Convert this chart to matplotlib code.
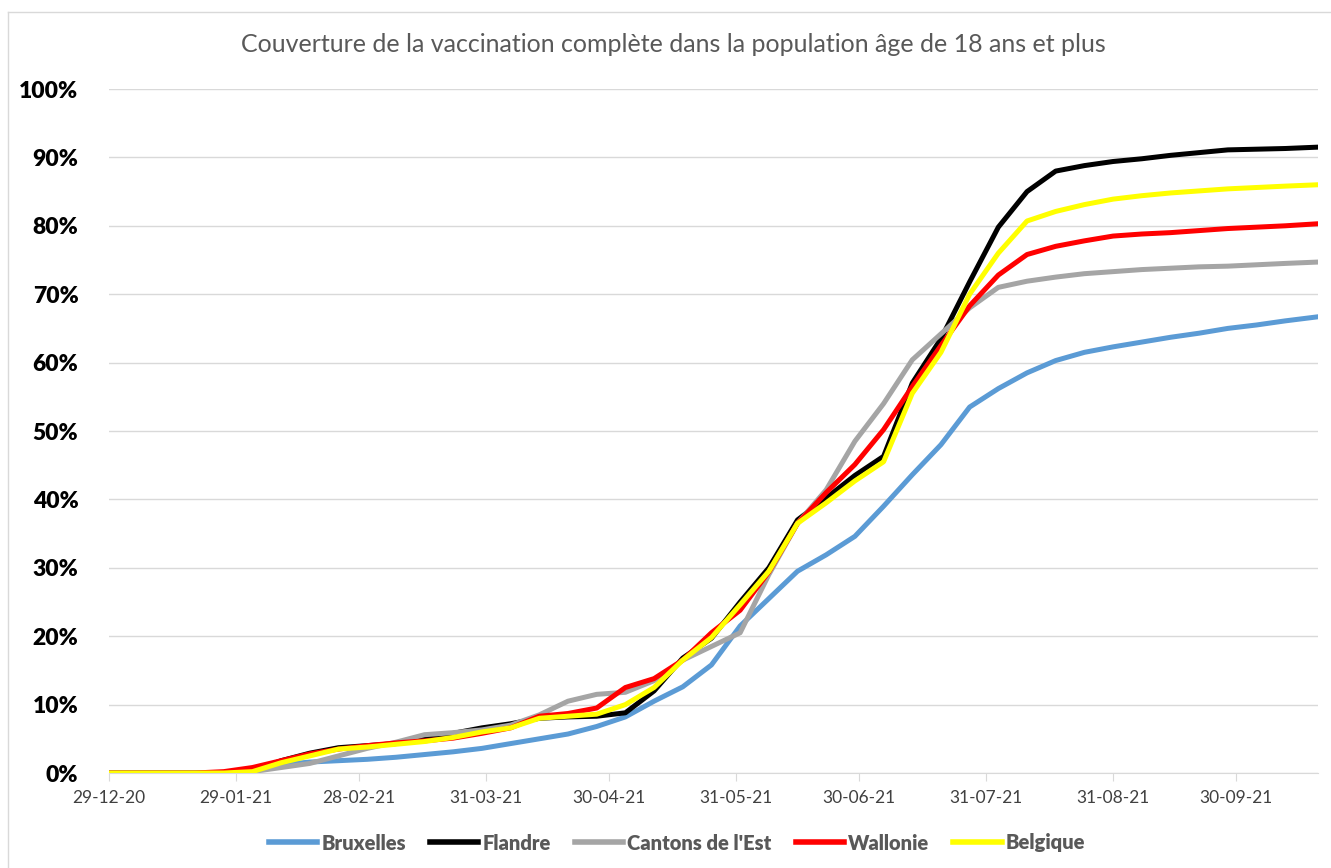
import numpy as np
import pandas as pd
import matplotlib
matplotlib.use("Agg")
import matplotlib.pyplot as plt
import matplotlib.dates as mdates
from matplotlib.lines import Line2D
from matplotlib.ticker import FuncFormatter

# Data (days since 29-12-2020, coverage in %)
start = pd.Timestamp("2020-12-29")
days = [0, 7, 14, 21, 28, 35, 42, 49, 56, 63, 70, 77, 84, 91, 98, 105, 112, 119, 126, 133,
        140, 147, 154, 161, 168, 175, 182, 189, 196, 203, 210, 217, 224, 231, 238, 245, 252,
        259, 266, 273, 280, 287, 295]

bruxelles = [0, 0, 0, 0, 0, 0.5, 1.2, 1.6, 1.8, 2.0, 2.3, 2.7, 3.1, 3.6, 4.3, 5.0, 5.7, 6.8,
             8.2, 10.5, 12.6, 15.8, 21.5, 25.5, 29.5, 31.9, 34.6, 39.0, 43.6, 48.0, 53.5,
             56.2, 58.5, 60.3, 61.5, 62.3, 63.0, 63.7, 64.3, 65.0, 65.5, 66.1, 66.7]
flandre = [0, 0, 0, 0, 0, 0.2, 1.8, 2.9, 3.7, 4.0, 4.3, 5.0, 5.8, 6.6, 7.2, 8.0, 8.2, 8.3,
           8.8, 12.0, 16.8, 19.7, 25.0, 30.0, 37.0, 40.2, 43.5, 46.3, 57.0, 63.5, 71.8, 79.8,
           85.0, 88.0, 88.8, 89.4, 89.8, 90.3, 90.7, 91.1, 91.2, 91.3, 91.5]
cantons = [0, 0, 0, 0, 0, 0.2, 0.8, 1.4, 2.5, 3.6, 4.5, 5.6, 5.9, 6.3, 7.0, 8.5, 10.5, 11.5,
           11.8, 13.5, 16.5, 18.5, 20.5, 29.0, 36.5, 41.4, 48.5, 54.0, 60.4, 64.2, 68.0, 71.0,
           71.9, 72.5, 73.0, 73.3, 73.6, 73.8, 74.0, 74.1, 74.3, 74.5, 74.7]
wallonie = [0, 0, 0, 0, 0.2, 0.8, 1.8, 2.8, 3.5, 4.0, 4.4, 4.7, 5.1, 5.8, 6.6, 8.3, 8.7, 9.5,
            12.5, 13.8, 16.5, 20.5, 23.8, 29.4, 36.5, 41.0, 45.1, 50.2, 56.5, 62.5, 68.3,
            72.8, 75.8, 77.0, 77.8, 78.5, 78.8, 79.0, 79.3, 79.6, 79.8, 80.0, 80.3]
belgique = [0, 0, 0, 0, 0, 0.2, 1.5, 2.5, 3.5, 3.8, 4.2, 4.6, 5.2, 6.0, 6.6, 8.0, 8.3, 8.6,
            10.0, 12.5, 16.5, 19.8, 24.6, 29.5, 36.5, 39.5, 42.7, 45.5, 55.5, 61.5, 70.0,
            76.0, 80.7, 82.1, 83.1, 83.9, 84.4, 84.8, 85.1, 85.4, 85.6, 85.8, 86.0]

series_names = ["Bruxelles", "Flandre", "Cantons de l'Est", "Wallonie", "Belgique"]
series_colors = ["#5B9BD5", "#000000", "#A5A5A5", "#FF0000", "#FFFF00"]

tick_dates = ["2020-12-29", "2021-01-29", "2021-02-28", "2021-03-31", "2021-04-30",
              "2021-05-31", "2021-06-30", "2021-07-31", "2021-08-31", "2021-09-30"]

dates = start + pd.to_timedelta(days, unit="D")

plt.rcParams['font.family'] = ['Lato', 'DejaVu Sans']
fig = plt.figure(figsize=(13.31, 8.68), dpi=100)
ax = fig.add_axes([109 / 1331, 1 - 773 / 868, (1318 - 109) / 1331, (773 - 89) / 868])

for vals, name, col in zip([bruxelles, flandre, cantons, wallonie, belgique], series_names, series_colors):
    ax.plot(dates, vals, color=col, lw=3.6, label=name, solid_joinstyle='round')

ax.set_ylim(0, 100)
ax.set_yticks(np.arange(0, 101, 10))
ax.yaxis.set_major_formatter(FuncFormatter(lambda v, p: f"{int(v)}%"))
ax.set_xlim(dates[0], dates[-1])
ax.set_xticks(pd.to_datetime(tick_dates))
ax.xaxis.set_major_formatter(mdates.DateFormatter("%d-%m-%y"))

ax.grid(axis='y', color='#D9D9D9', lw=1)
ax.set_axisbelow(True)
for s in ['top', 'right', 'left']:
    ax.spines[s].set_visible(False)
ax.spines['bottom'].set_color('#D9D9D9')
ax.tick_params(axis='y', length=0, pad=22, labelsize=16.5, labelcolor='black')
for t in ax.get_yticklabels():
    t.set_fontweight('heavy')
ax.tick_params(axis='x', length=6, color='#D9D9D9', labelsize=12.5, labelcolor='#404040', pad=6)

fig.text(673 / 1331, 1 - 44 / 868, "Couverture de la vaccination complète dans la population âge de 18 ans et plus",
         ha='center', va='center', fontsize=18, color='#595959')

leg = fig.legend(loc='center', bbox_to_anchor=(677 / 1331, 1 - 843 / 868), ncol=5, frameon=False,
                 handlelength=2.4, columnspacing=1.2, handletextpad=0.2,
                 prop={'size': 14.5, 'weight': 'heavy'})
for t in leg.get_texts():
    t.set_color('#595959')
for h in leg.legend_handles:
    h.set_linewidth(4)

# outer chart border
fig.add_artist(Line2D([8 / 1331, 8 / 1331], [0, 1 - 12 / 868], transform=fig.transFigure, color='#D9D9D9', lw=1))
fig.add_artist(Line2D([8 / 1331, 1], [1 - 12 / 868, 1 - 12 / 868], transform=fig.transFigure, color='#D9D9D9', lw=1))

fig.savefig("out.png", dpi=100)
